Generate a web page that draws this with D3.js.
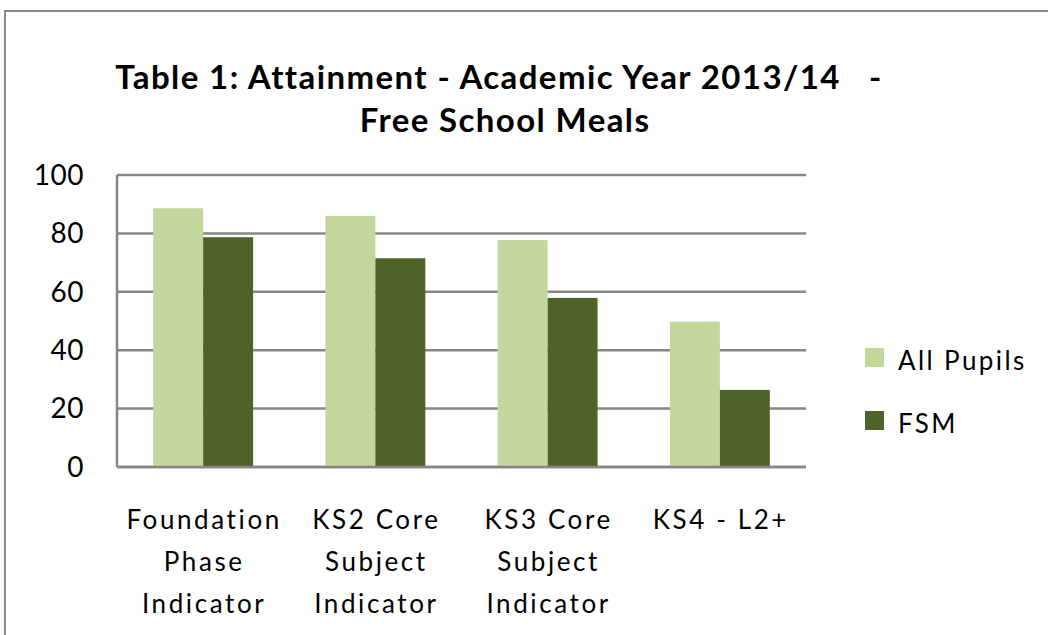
<!DOCTYPE html>
<html>
<head>
<meta charset="utf-8">
<script src="https://cdn.jsdelivr.net/npm/d3@7"></script>
<style>
  html, body { margin: 0; padding: 0; background: #fff; }
  svg { display: block; }
  text { font-family: Lato, "Open Sans", sans-serif; fill: #000; }
</style>
</head>
<body>
<div id="chart"></div>
<script>
// ── Data ─────────────────────────────────────────────────────────────
const categories = [
  ['Foundation', 'Phase', 'Indicator'],
  ['KS2 Core', 'Subject', 'Indicator'],
  ['KS3 Core', 'Subject', 'Indicator'],
  ['KS4 - L2+']
];
const seriesNames  = ['All Pupils', 'FSM'];
const allPupils    = [88.6, 86.0, 77.7, 49.8];
const fsm          = [78.7, 71.5, 57.9, 26.4];
const yTicks       = [0, 20, 40, 60, 80, 100];
const titleLines   = ['Table 1: Attainment - Academic Year 2013/14   -', 'Free School Meals'];
const colors       = ['#c3d69b', '#4f6228'];

const W = 1048, H = 635;
const plot = { left: 117, right: 806, top: 175, bottom: 467 };

const svg = d3.select('#chart').append('svg')
  .attr('width', W).attr('height', H);

// outer chart border (runs off the right/bottom of the picture)
svg.append('rect')
  .attr('x', 5).attr('y', 11)
  .attr('width', W + 20).attr('height', H + 20)
  .attr('fill', 'none').attr('stroke', '#8c8c8c').attr('stroke-width', 2);

// ── Title ────────────────────────────────────────────────────────────
svg.append('text')
  .attr('text-anchor', 'middle')
  .attr('font-weight', 'bold').attr('font-size', 33)
  .attr('letter-spacing', 1.4)
  .selectAll('tspan').data(titleLines).join('tspan')
    .attr('x', (d, i) => i === 0 ? 499 : 505)
    .attr('y', (d, i) => 89 + i * 43)
    .style('white-space', 'pre')
    .text(d => d);

// ── Scales ───────────────────────────────────────────────────────────
const x0 = d3.scaleBand()
  .domain(d3.range(categories.length))
  .range([plot.left, plot.right])
  .paddingInner(0.42).paddingOuter(0.21);
const x1 = d3.scaleBand()
  .domain(seriesNames)
  .range([0, x0.bandwidth()]);
const y = d3.scaleLinear().domain([0, 100]).range([plot.bottom, plot.top]);

// ── Gridlines ────────────────────────────────────────────────────────
svg.append('g')
  .selectAll('line').data(yTicks).join('line')
    .attr('x1', plot.left).attr('x2', plot.right)
    .attr('y1', d => y(d)).attr('y2', d => y(d))
    .attr('stroke', '#868686').attr('stroke-width', 2.5);

// ── Bars ─────────────────────────────────────────────────────────────
const series = [allPupils, fsm];
svg.append('g')
  .selectAll('g').data(categories.map((c, i) => i)).join('g')
    .attr('transform', i => `translate(${x0(i)},0)`)
  .selectAll('rect').data(i => seriesNames.map((s, k) => ({ s, k, v: series[k][i] }))).join('rect')
    .attr('x', d => x1(d.s))
    .attr('width', x1.bandwidth())
    .attr('y', d => y(d.v))
    .attr('height', d => y(0) - y(d.v))
    .attr('fill', d => colors[d.k]);

// left axis line + baseline
svg.append('line')
  .attr('x1', plot.left).attr('x2', plot.left)
  .attr('y1', plot.top).attr('y2', plot.bottom)
  .attr('stroke', '#868686').attr('stroke-width', 2.5);
svg.append('line')
  .attr('x1', plot.left).attr('x2', plot.right)
  .attr('y1', plot.bottom).attr('y2', plot.bottom)
  .attr('stroke', '#868686').attr('stroke-width', 2.5);

// ── Y tick labels ────────────────────────────────────────────────────
svg.append('g')
  .selectAll('text').data(yTicks).join('text')
    .attr('x', 84).attr('y', d => y(d))
    .attr('dy', '0.35em')
    .attr('text-anchor', 'end').attr('font-size', 28)
    .attr('letter-spacing', 0.5)
    .text(d => d);

// ── Category labels ──────────────────────────────────────────────────
svg.append('g')
  .selectAll('text').data(categories).join('text')
    .attr('text-anchor', 'middle').attr('font-size', 26)
    .attr('letter-spacing', 2.6)
  .selectAll('tspan').data((d, i) => d.map(t => ({ t, i }))).join('tspan')
    .attr('x', d => x0(d.i) + x0.bandwidth() / 2 + 1)
    .attr('y', (d, j) => 529 + j * 42)
    .text(d => d.t);

// ── Legend ───────────────────────────────────────────────────────────
const leg = svg.append('g')
  .selectAll('g').data(seriesNames).join('g')
    .attr('transform', (d, i) => `translate(865,${348 + i * 63})`);
leg.append('rect')
  .attr('width', 19).attr('height', 19)
  .attr('fill', (d, i) => colors[i]);
leg.append('text')
  .attr('x', 33).attr('y', 22)
  .attr('font-size', 26)
  .attr('letter-spacing', 2.4)
  .text(d => d);
</script>
</body>
</html>
